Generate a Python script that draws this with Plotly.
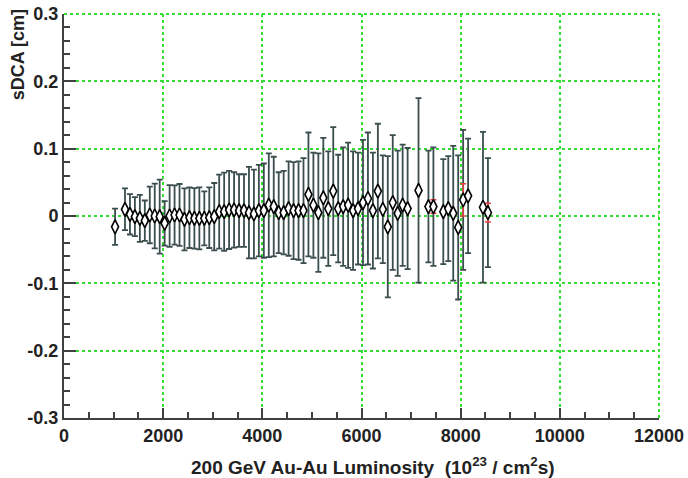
import plotly.graph_objects as go

# Luminosity (10^23 / cm^2 s)
lumi = [1030, 1230, 1330, 1430, 1530, 1630, 1730, 1830, 1930, 2030,
        2130, 2230, 2330, 2430, 2530, 2630, 2730, 2830, 2930, 3030,
        3130, 3230, 3330, 3430, 3530, 3630, 3730, 3830, 3930, 4030,
        4130, 4230, 4330, 4430, 4530, 4630, 4730, 4830, 4930, 5030,
        5130, 5230, 5330, 5430, 5530, 5630, 5730, 5830, 5930, 6030,
        6130, 6230, 6330, 6430, 6530, 6630, 6730, 6830, 6930, 7150,
        7350, 7450, 7650, 7750, 7850, 7950, 8050, 8150, 8450, 8550]
# sDCA mean [cm]
sdca = [-0.016, 0.010, 0.0025, -0.001, -0.0035, -0.007, 0.0015, 0.000, -0.001, -0.011,
        0.000, 0.0015, 0.0015, -0.005, -0.0025, -0.0035, -0.0035, -0.0035, -0.0025, -0.001,
        0.0064, 0.0064, 0.009, 0.009, 0.008, 0.008, 0.005, 0.003, 0.008, 0.008,
        0.016, 0.014, 0.005, 0.005, 0.011, 0.008, 0.008, 0.008, 0.032, 0.016,
        0.005, 0.027, 0.011, 0.037, 0.011, 0.014, 0.016, 0.008, 0.011, 0.020,
        0.026, 0.008, 0.037, 0.010, -0.016, 0.020, 0.004, 0.016, 0.011, 0.038,
        0.014, 0.014, 0.0064, 0.011, 0.004, -0.017, 0.024, 0.030, 0.013, 0.005]
# sDCA width (error bar) [cm]
sdca_err = [0.027, 0.031, 0.030, 0.029, 0.035, 0.030, 0.042, 0.048, 0.055, 0.033,
            0.046, 0.044, 0.046, 0.046, 0.045, 0.045, 0.046, 0.040, 0.045, 0.050,
            0.055, 0.058, 0.058, 0.056, 0.054, 0.054, 0.068, 0.066, 0.068, 0.070,
            0.077, 0.074, 0.060, 0.062, 0.070, 0.072, 0.073, 0.078, 0.092, 0.078,
            0.088, 0.089, 0.085, 0.095, 0.080, 0.088, 0.093, 0.088, 0.083, 0.093,
            0.098, 0.086, 0.100, 0.080, 0.105, 0.100, 0.093, 0.090, 0.090, 0.137,
            0.083, 0.088, 0.078, 0.078, 0.100, 0.107, 0.104, 0.085, 0.112, 0.081]
# points with visible red (statistical) error bars
red_lumi = [7450, 8050, 8550]
red_err = [0.010, 0.024, 0.014]
red_sdca = [sdca[lumi.index(v)] for v in red_lumi]

x_ticks = [0, 2000, 4000, 6000, 8000, 10000, 12000]
x_tick_text = ["0", "2000", "4000", "6000", "8000", "10000", "12000"]
y_ticks = [-0.3, -0.2, -0.1, 0, 0.1, 0.2, 0.3]
y_tick_text = ["-0.3", "-0.2", "-0.1", "0", "0.1", "0.2", "0.3"]

bar_color = "#3b4d4d"
font_family = "Liberation Sans, Arial, sans-serif"
grid_color = "#33dd33"

fig = go.Figure()
fig.add_trace(go.Scatter(
    x=lumi, y=sdca, mode="markers",
    marker=dict(size=1, color="rgba(0,0,0,0)"),
    error_y=dict(type="data", array=sdca_err, visible=True,
                 color=bar_color, thickness=1.8, width=3),
    showlegend=False, hoverinfo="skip"))
fig.add_trace(go.Scatter(
    x=red_lumi, y=red_sdca, mode="markers",
    marker=dict(size=1, color="rgba(0,0,0,0)"),
    error_y=dict(type="data", array=red_err, visible=True,
                 color="#e84040", thickness=1.5, width=3),
    showlegend=False, hoverinfo="skip"))
fig.add_trace(go.Scatter(
    x=lumi, y=sdca, mode="markers",
    marker=dict(symbol="diamond-tall", size=10, color="white",
                line=dict(color="black", width=1.6)),
    showlegend=False))

fig.update_xaxes(
    range=[0, 12000], tickvals=x_ticks, ticktext=x_tick_text,
    automargin=False,
    ticks="inside", ticklen=10,
    tickcolor="#404040", tickwidth=1.5,
    minor=dict(dtick=500, ticks="inside", ticklen=6, tickcolor="#404040",
               showgrid=False),
    showline=True, linecolor="#404040", linewidth=2,
    showgrid=True, gridcolor=grid_color, griddash="dot", gridwidth=2,
    zeroline=False,
    tickfont=dict(family=font_family, size=18, color="#222222", weight="bold"))
fig.update_yaxes(
    range=[-0.3, 0.3], tickvals=y_ticks, ticktext=y_tick_text,
    automargin=False,
    ticks="inside", ticklen=12, tickcolor="#404040", tickwidth=1.5,
    minor=dict(dtick=0.02, ticks="inside", ticklen=6, tickcolor="#404040",
               showgrid=False),
    showline=True, linecolor="#404040", linewidth=2,
    showgrid=True, gridcolor=grid_color, griddash="dot", gridwidth=2,
    zeroline=False,
    tickfont=dict(family=font_family, size=18, color="#222222", weight="bold"))

# grid lines on the top and right edges of the frame
fig.add_shape(type="line", xref="paper", yref="paper", x0=0, x1=1, y0=1, y1=1,
              line=dict(color=grid_color, width=2, dash="dot"), layer="below")
fig.add_shape(type="line", xref="paper", yref="paper", x0=1, x1=1, y0=0, y1=1,
              line=dict(color=grid_color, width=2, dash="dot"), layer="below")

fig.update_layout(
    width=688, height=478,
    margin=dict(l=64, r=29, t=14, b=60, autoexpand=False),
    plot_bgcolor="white", paper_bgcolor="white",
    annotations=[
        dict(text="200 GeV Au-Au Luminosity  (10<sup>23</sup> / cm<sup>2</sup>s)",
             xref="paper", yref="paper", x=0.52, y=-0.085,
             xanchor="center", yanchor="top", showarrow=False,
             font=dict(family=font_family, size=19, color="#222222", weight="bold")),
        dict(text="sDCA [cm]", textangle=-90,
             xref="paper", yref="paper", x=-0.097, y=1.016,
             xanchor="left", yanchor="top", showarrow=False,
             font=dict(family=font_family, size=18, color="#222222", weight="bold")),
    ])

fig.write_html("out.html")
